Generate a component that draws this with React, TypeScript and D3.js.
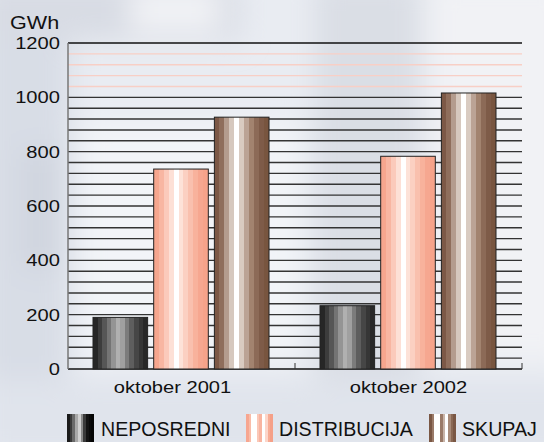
import React from "react";
import * as d3 from "d3";

const categories = ["oktober 2001", "oktober 2002"];
const seriesNames = ["NEPOSREDNI", "DISTRIBUCIJA", "SKUPAJ"];
const neposredni = [190, 233];
const distribucija = [736, 783];
const skupaj = [927, 1016];
const yTicks = [0, 200, 400, 600, 800, 1000, 1200];
const unit = "GWh";

const W = 544;
const H = 442;
const margin = { left: 68, right: 22, top: 43, bottom: 73 };
const FONT = "'Liberation Sans', Arial, Helvetica, sans-serif";

// stepped vertical-stripe fills for the three series
const stripes: Record<string, string[]> = {
  NEPOSREDNI: ["#262626", "#3c3c3c", "#565656", "#747474", "#949494", "#b0b0b0", "#a0a0a0", "#7c7c7c", "#5e5e5e", "#464646", "#363636", "#282828"],
  DISTRIBUCIJA: ["#f6a68e", "#f8b6a2", "#fbcabb", "#fde0d6", "#ffffff", "#fde2d8", "#fbd0c2", "#f9c0ae", "#f8b29c", "#f6a790", "#f6a38a"],
  SKUPAJ: ["#7c5846", "#8f6e5c", "#b49c8e", "#d6c8be", "#ffffff", "#d9cbc1", "#bba395", "#a2836f", "#8c6a57", "#7e5b48", "#78553f"],
};
const legendStripes: Record<string, string[]> = {
  NEPOSREDNI: ["#1a1a1a", "#3a3a3a", "#6a6a6a", "#a8a8a8", "#d0d0d0", "#8a8a8a", "#3a3a3a", "#141414", "#0a0a0a", "#050505"],
  DISTRIBUCIJA: ["#f7a690", "#f9bca8", "#ffffff", "#ffffff", "#fbc8b8", "#f8b4a0", "#ffffff", "#fcd6ca", "#f7ab94", "#f5a088"],
  SKUPAJ: ["#7a5744", "#9a7a68", "#ffffff", "#ffffff", "#9a7a68", "#c8b4a8", "#ffffff", "#a88a78", "#8a6854", "#7a5744"],
};

function StripeGradient({ id, colors }: { id: string; colors: string[] }) {
  const n = colors.length;
  const stops: React.ReactElement[] = [];
  colors.forEach((c, i) => {
    stops.push(<stop key={`a${i}`} offset={`${(i / n) * 100}%`} stopColor={c} />);
    stops.push(<stop key={`b${i}`} offset={`${((i + 1) / n) * 100}%`} stopColor={c} />);
  });
  return (
    <linearGradient id={id} x1="0" x2="1" y1="0" y2="0">
      {stops}
    </linearGradient>
  );
}

// text drawn with a slight horizontal stretch
function WideText({
  x,
  y,
  size,
  sx,
  anchor,
  children,
}: {
  x: number;
  y: number;
  size: number;
  sx: number;
  anchor: "start" | "middle" | "end";
  children: React.ReactNode;
}) {
  return (
    <text transform={`translate(${x},${y}) scale(${sx},1)`} textAnchor={anchor} fontSize={size} fill="#111">
      {children}
    </text>
  );
}

export default function App() {
  const innerW = W - margin.left - margin.right;
  const y = d3.scaleLinear().domain([0, 1200]).range([H - margin.bottom, margin.top]);
  const x0 = d3.scaleBand<string>().domain(categories).range([margin.left, margin.left + innerW]).padding(0);
  const x1 = d3
    .scaleBand<string>()
    .domain(seriesNames)
    .range([25, x0.bandwidth() - 26])
    .paddingInner(0.1)
    .paddingOuter(0);

  const values: Record<string, number[]> = {
    NEPOSREDNI: neposredni,
    DISTRIBUCIJA: distribucija,
    SKUPAJ: skupaj,
  };

  const gridVals = d3.range(0, 1201, 40);
  const labelShift = [-9, 0];

  const legendItems = [
    { name: "NEPOSREDNI", x: 67, tx: 101 },
    { name: "DISTRIBUCIJA", x: 246, tx: 279 },
    { name: "SKUPAJ", x: 429, tx: 462 },
  ];

  return (
    <svg width={W} height={H} style={{ position: "absolute", left: 0, top: 0 }} fontFamily={FONT}>
      <defs>
        {seriesNames.map((s) => (
          <StripeGradient key={s} id={`g-${s}`} colors={stripes[s]} />
        ))}
        {seriesNames.map((s) => (
          <StripeGradient key={s} id={`lg-${s}`} colors={legendStripes[s]} />
        ))}
        <filter id="soft" x="-20%" y="-20%" width="140%" height="140%">
          <feGaussianBlur stdDeviation="14" />
        </filter>
      </defs>

      {/* soft photographic backdrop */}
      <rect x={0} y={0} width={W} height={H} fill="#e9ecf2" />
      <g filter="url(#soft)">
        <rect x={-20} y={-20} width={90} height={480} fill="#d8dde6" />
        <rect x={-20} y={-20} width={260} height={60} fill="#d8dce4" />
        <rect x={130} y={-10} width={90} height={40} fill="#f2f3f6" />
        <rect x={315} y={-20} width={105} height={400} fill="#dadee5" />
        <rect x={430} y={-20} width={140} height={380} fill="#f1f2f5" />
        <rect x={80} y={120} width={220} height={240} fill="#f2f4f8" />
        <rect x={-20} y={380} width={600} height={80} fill="#e0e4ec" />
        <rect x={20} y={150} width={40} height={120} fill="#d0d5df" />
      </g>

      {/* horizontal grid */}
      {gridVals.map((v) => {
        const pink = v > 1000 && v < 1200;
        return (
          <line
            key={v}
            x1={margin.left}
            x2={margin.left + innerW}
            y1={y(v)}
            y2={y(v)}
            stroke={pink ? "#f8cfc6" : v === 0 || v === 1200 ? "#111" : "#333"}
            strokeWidth={pink ? 1.4 : 1.4}
          />
        );
      })}
      <line x1={margin.left} x2={margin.left} y1={y(1200)} y2={y(0)} stroke="#777" strokeWidth={1.5} />
      {categories.map((c) => (
        <line key={c} x1={(x0(c) as number) + x0.bandwidth()} x2={(x0(c) as number) + x0.bandwidth()} y1={y(0)} y2={y(0) - 6} stroke="#333" strokeWidth={1} />
      ))}

      {/* bars */}
      {categories.map((c, ci) => (
        <g key={c} transform={`translate(${x0(c)},0)`}>
          {seriesNames.map((s) => (
            <rect
              key={s}
              x={x1(s)}
              y={y(values[s][ci])}
              width={x1.bandwidth()}
              height={y(0) - y(values[s][ci])}
              fill={`url(#g-${s})`}
              stroke="#222"
              strokeWidth={1}
            />
          ))}
        </g>
      ))}

      {/* y tick labels */}
      {yTicks.map((t) => (
        <WideText key={t} x={60} y={y(t) + 6} size={16.8} sx={1.2} anchor="end">
          {t}
        </WideText>
      ))}
      <WideText x={10} y={29} size={18} sx={1.2} anchor="start">
        {unit}
      </WideText>

      {/* category labels */}
      {categories.map((c, i) => (
        <WideText
          key={c}
          x={(x0(c) as number) + x0.bandwidth() / 2 + labelShift[i]}
          y={393}
          size={17.2}
          sx={1.17}
          anchor="middle"
        >
          {c}
        </WideText>
      ))}

      {/* legend */}
      {legendItems.map((it) => (
        <g key={it.name}>
          <rect x={it.x} y={414} width={27} height={30} fill={`url(#lg-${it.name})`} />
          <text x={it.tx} y={436} fontSize={19.6} fill="#111">
            {it.name}
          </text>
        </g>
      ))}
    </svg>
  );
}
